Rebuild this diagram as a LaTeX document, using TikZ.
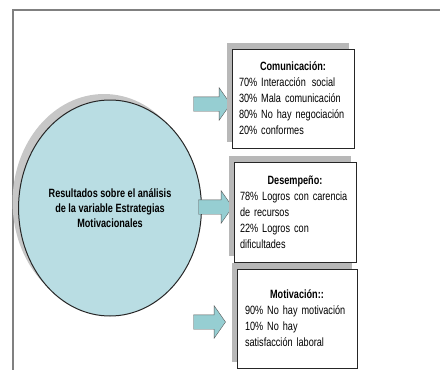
\documentclass[tikz,border=0pt]{standalone}
\usepackage{fontspec}
\setmainfont{Liberation Sans}[FakeStretch=0.76]
\usepackage{tikz}
\usetikzlibrary{shapes.geometric, shapes.arrows, shadows, positioning}
\usepackage{xcolor}
\definecolor{celeste}{RGB}{185,221,227}
\definecolor{flechaazul}{RGB}{150,206,210}
\newcommand{\titulo}[1]{\makebox[\linewidth][c]{\bfseries #1}}
\newcommand{\singuion}{\hyphenpenalty10000\relax}
\tikzstyle{caja} = [
    draw=black!85,
    line width=1pt,
    fill=white,
    text width=108pt,
    inner xsep=7pt,
    minimum height=99pt,
    align=left,
    font=\fontsize{12}{16}\selectfont\singuion,
    drop shadow={shadow xshift=-5pt, shadow yshift=6pt, fill=black!28, opacity=1}
]
\tikzstyle{flecha} = [
    single arrow,
    draw=black!65,
    fill=flechaazul,
    minimum height=37pt,
    inner xsep=0pt,
    inner ysep=7pt,
    single arrow head extend=9pt,
    single arrow tip angle=110
]

\begin{document}
\begin{tikzpicture}[x=1pt, y=-1pt]
\useasboundingbox (0,0) rectangle (440,370);
% Marco
\draw[black!50, line width=1.2pt] (13,370) -- (13,10) -- (440,10);

% Elipse central
\node[ellipse, draw=black!85, line width=1pt, fill=celeste,
      minimum width=154pt, minimum height=216pt, align=center,
      font=\fontsize{12}{15}\selectfont\bfseries,
      drop shadow={shadow xshift=-6pt, shadow yshift=6pt, fill=black!22, opacity=1}]
      (res) at (110,208) {Resultados sobre el análisis\\de la variable Estrategias\\Motivacionales};

% Flechas
\node[flecha] (f1) at (209.5,104) {};
\node[flecha, minimum height=34pt] (f2) at (213,207) {};
\node[flecha, minimum height=32pt] (f3) at (207,322) {};

% Cajas de resultados
\node[caja] (com) at (293,98.5) {\titulo{Comunicación:}\\
70\% Interacción\, social\\30\% Mala comunicación\\80\% No hay negociación\\20\% conformes};
\node[caja, minimum height=100pt, text width=110pt, inner xsep=6pt] (des) at (295,212) {\titulo{Desempeño:}\\
78\% Logros con carencia\\de recursos\\22\% Logros con\\dificultades};
\node[caja, text width=104pt, inner xsep=8pt] (mot) at (297,318.5) {\titulo{Motivación::}\\
90\% No hay motivación\\10\% No hay\\satisfacción laboral};
\end{tikzpicture}
\end{document}
